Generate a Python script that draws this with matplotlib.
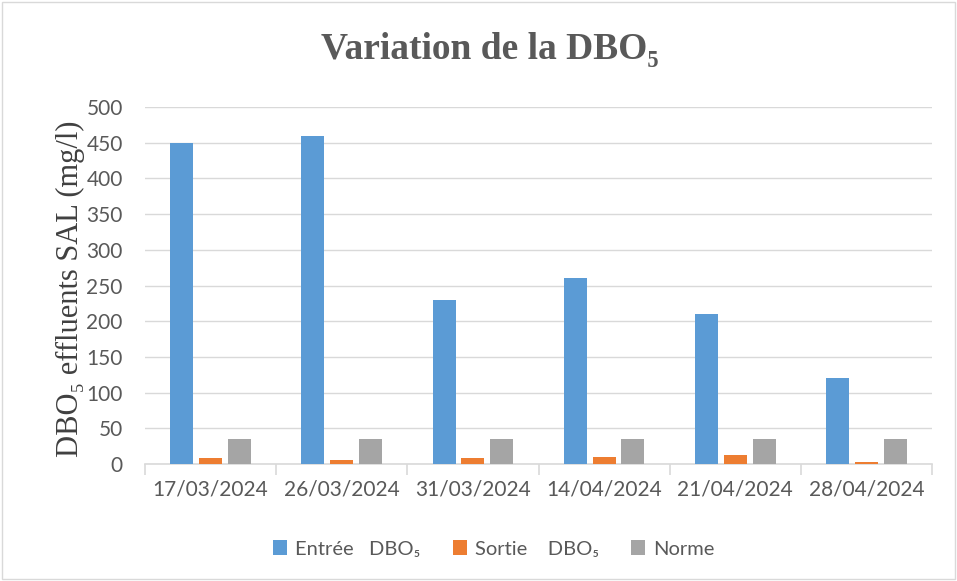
import numpy as np
import matplotlib
matplotlib.use("Agg")
import matplotlib.pyplot as plt
from matplotlib.patches import Rectangle

dates = ["17/03/2024", "26/03/2024", "31/03/2024", "14/04/2024", "21/04/2024", "28/04/2024"]
entree = [450, 460, 230, 260, 210, 120]
sortie = [8, 6, 8, 10, 12, 3]
norme = [35, 35, 35, 35, 35, 35]

labels = ["Entrée   DBO\u2085", "Sortie    DBO\u2085", "Norme"]
colors = ["#5b9bd5", "#ed7d31", "#a5a5a5"]
txt = "#595959"

fig = plt.figure(figsize=(9.57, 5.81), dpi=100)
ax = fig.add_axes([0.1515, 0.2014, 0.8224, 0.6144])

x = np.arange(len(dates))
w = 0.175
step = 0.22
for i, (vals, lab, c) in enumerate(zip([entree, sortie, norme], labels, colors)):
    ax.bar(x + (i - 1) * step, vals, w, color=c, label=lab, zorder=3)

ax.set_xlim(-0.5, len(dates) - 0.5)
ax.set_ylim(0, 500)
ax.set_yticks(range(0, 501, 50))
ax.yaxis.grid(True, color="#d9d9d9", linewidth=1, zorder=0)
for s in ["top", "right", "left"]:
    ax.spines[s].set_visible(False)
ax.spines["bottom"].set_color("#d9d9d9")
ax.spines["bottom"].set_linewidth(1.2)

ax.set_xticks(x)
ax.set_xticklabels(dates)
ax.set_xticks(np.arange(-0.5, len(dates), 1), minor=True)
ax.tick_params(axis="x", which="major", length=0, pad=11)
ax.tick_params(axis="x", which="minor", length=8, color="#d9d9d9", width=1.2)
ax.tick_params(axis="y", length=0, pad=16)
for t in ax.get_xticklabels() + ax.get_yticklabels():
    t.set_fontsize(15)
    t.set_color(txt)
    t.set_family(["Lato", "DejaVu Sans"])

fig.text(0.512, 0.914, "Variation de la DBO\u2085", ha="center", va="center",
         fontsize=27, fontweight="bold", color=txt,
         family=["Liberation Serif", "DejaVu Serif"])
fig.text(0.074, 0.503, "DBO\u2085 effluents SAL (mg/l)", ha="center", va="center",
         rotation=90, fontsize=22, color="#404040",
         family=["Liberation Serif", "DejaVu Serif"])

leg = fig.legend(loc="center", bbox_to_anchor=(0.516, 0.055), ncol=3, frameon=False,
                 handlelength=0.7, handleheight=0.7, handletextpad=0.4,
                 columnspacing=1.6, prop={"family": ["Lato", "DejaVu Sans"], "size": 14.5})
for t in leg.get_texts():
    t.set_color(txt)

fig.patches.append(Rectangle((0.002, 0.003), 0.996, 0.994, transform=fig.transFigure,
                             fill=False, edgecolor="#d9d9d9", linewidth=1))

fig.savefig("out.png", dpi=100)
